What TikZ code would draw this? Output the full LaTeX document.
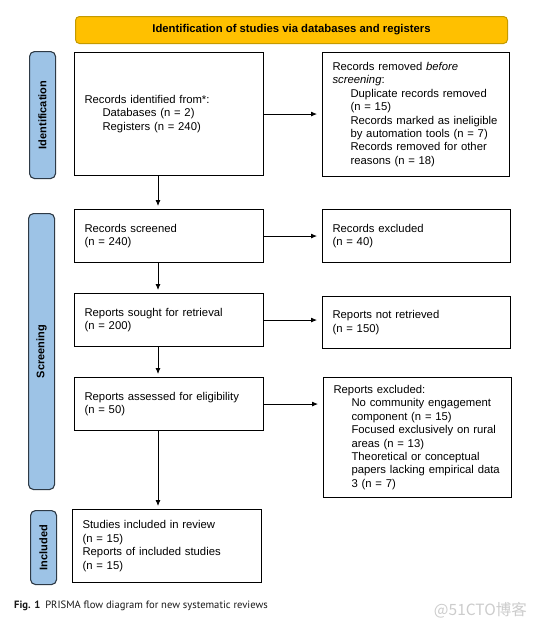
\documentclass[tikz,border=0pt]{standalone}
\usepackage{fontspec}
\setmainfont{Liberation Sans}
\newfontfamily\capfont{PT Sans}
\newfontfamily\cjkfont{Noto Sans CJK SC}
\usetikzlibrary{arrows.meta,calc}
\newcommand\ind{\hspace*{18pt}}
\definecolor{hdfill}{HTML}{FFC000}
\definecolor{hddraw}{HTML}{C49A00}
\definecolor{phfill}{HTML}{9DC3E6}
\definecolor{phdraw}{HTML}{2E3A46}
\begin{document}
\begin{tikzpicture}[x=1pt,y=-1pt,
  box/.style={draw=black, line width=1.1pt, anchor=north west, inner xsep=10pt, inner ysep=0pt,
    align=left, font=\fontsize{11.3}{13.4}\selectfont},
  arr/.style={-{Latex[length=6pt,width=5pt]}, line width=0.8pt, shorten >=3pt},
  rarr/.style={arr, shorten >=5pt},
  phase/.style={draw=phdraw, fill=phfill, rounded corners=5pt, line width=1.1pt, anchor=north west,
    inner sep=0pt, minimum width=26pt, font=\bfseries\fontsize{11}{13}\selectfont},
  header/.style={draw=hddraw, fill=hdfill, rounded corners=4pt, line width=1pt, anchor=north west,
    inner sep=0pt, font=\bfseries\fontsize{11.3}{13}\selectfont}]
\useasboundingbox (0,0) rectangle (539,627);
\fill[white] (0,0) rectangle (539,627);

\node[header, minimum width=432pt, minimum height=27pt] (hd) at (75,16)
  {Identification of studies via databases and registers};

\node[phase, minimum height=127pt] (pid) at (29,51) {\rotatebox{90}{Identification}};
\node[phase, minimum height=276pt] (pscr) at (28,213) {\rotatebox{90}{Screening}};
\node[phase, minimum height=74pt] (pinc) at (30,510) {\rotatebox{90}{Included}};

\node[box, text width=169pt, minimum height=123pt] (b1) at (74,52)
  {Records identified from*:\\\ind Databases (n = 2)\\\ind Registers (n = 240)};
\node[box, text width=167pt, minimum height=124pt] (b2) at (322,52)
  {Records removed \textit{before}\\\textit{screening}:\\\ind Duplicate records removed\\\ind (n = 15)\\\ind Records marked as ineligible\\\ind by automation tools (n = 7)\\\ind Records removed for other\\\ind reasons (n = 18)};
\node[box, text width=169pt, minimum height=53pt] (b3) at (74,209)
  {Records screened\\(n = 240)};
\node[box, text width=168pt, minimum height=53pt] (b4) at (322,209)
  {Records excluded\\(n = 40)};
\node[box, text width=169pt, minimum height=53pt] (b5) at (74,293)
  {Reports sought for retrieval\\(n = 200)};
\node[box, text width=168pt, minimum height=52pt] (b6) at (322,296)
  {Reports not retrieved\\(n = 150)};
\node[box, text width=169pt, minimum height=53pt] (b7) at (74,377)
  {Reports assessed for eligibility\\(n = 50)};
\node[box, text width=168pt, minimum height=120pt] (b8) at (323,377)
  {Reports excluded:\\\ind No community engagement\\\ind component (n = 15)\\\ind Focused exclusively on rural\\\ind areas (n = 13)\\\ind Theoretical or conceptual\\\ind papers lacking empirical data\\\ind 3 (n = 7)};
\node[box, text width=169pt, minimum height=73pt] (b9) at (72,509)
  {Studies included in review\\(n = 15)\\Reports of included studies\\(n = 15)};

\coordinate (ax) at (158,0);
\draw[arr] (b1.south -| ax) -- (b3.north -| ax);
\draw[arr] (b3.south -| ax) -- (b5.north -| ax);
\draw[arr] (b5.south -| ax) -- (b7.north -| ax);
\draw[arr] (b7.south -| ax) -- (b9.north -| ax);

\draw[rarr] (b1.east) -- (b1.east -| b2.west);
\draw[rarr] (b3.east) -- (b3.east -| b4.west);
\draw[rarr] (b5.east) -- (b5.east -| b6.west);
\draw[rarr] (b7.east) -- (b7.east -| b8.west);

\node[anchor=west, inner sep=0pt, font=\capfont\fontsize{10.6}{12}\selectfont, text=black!90] (cap) at (14,606)
  {\textbf{Fig. 1}\hspace{5pt}PRISMA flow diagram for new systematic reviews};
\node[anchor=east, inner sep=0pt, font=\cjkfont\fontsize{15.5}{17}\selectfont, text=black!20] (wm) at (527,610)
  {@51CTO博客};
\end{tikzpicture}
\end{document}
